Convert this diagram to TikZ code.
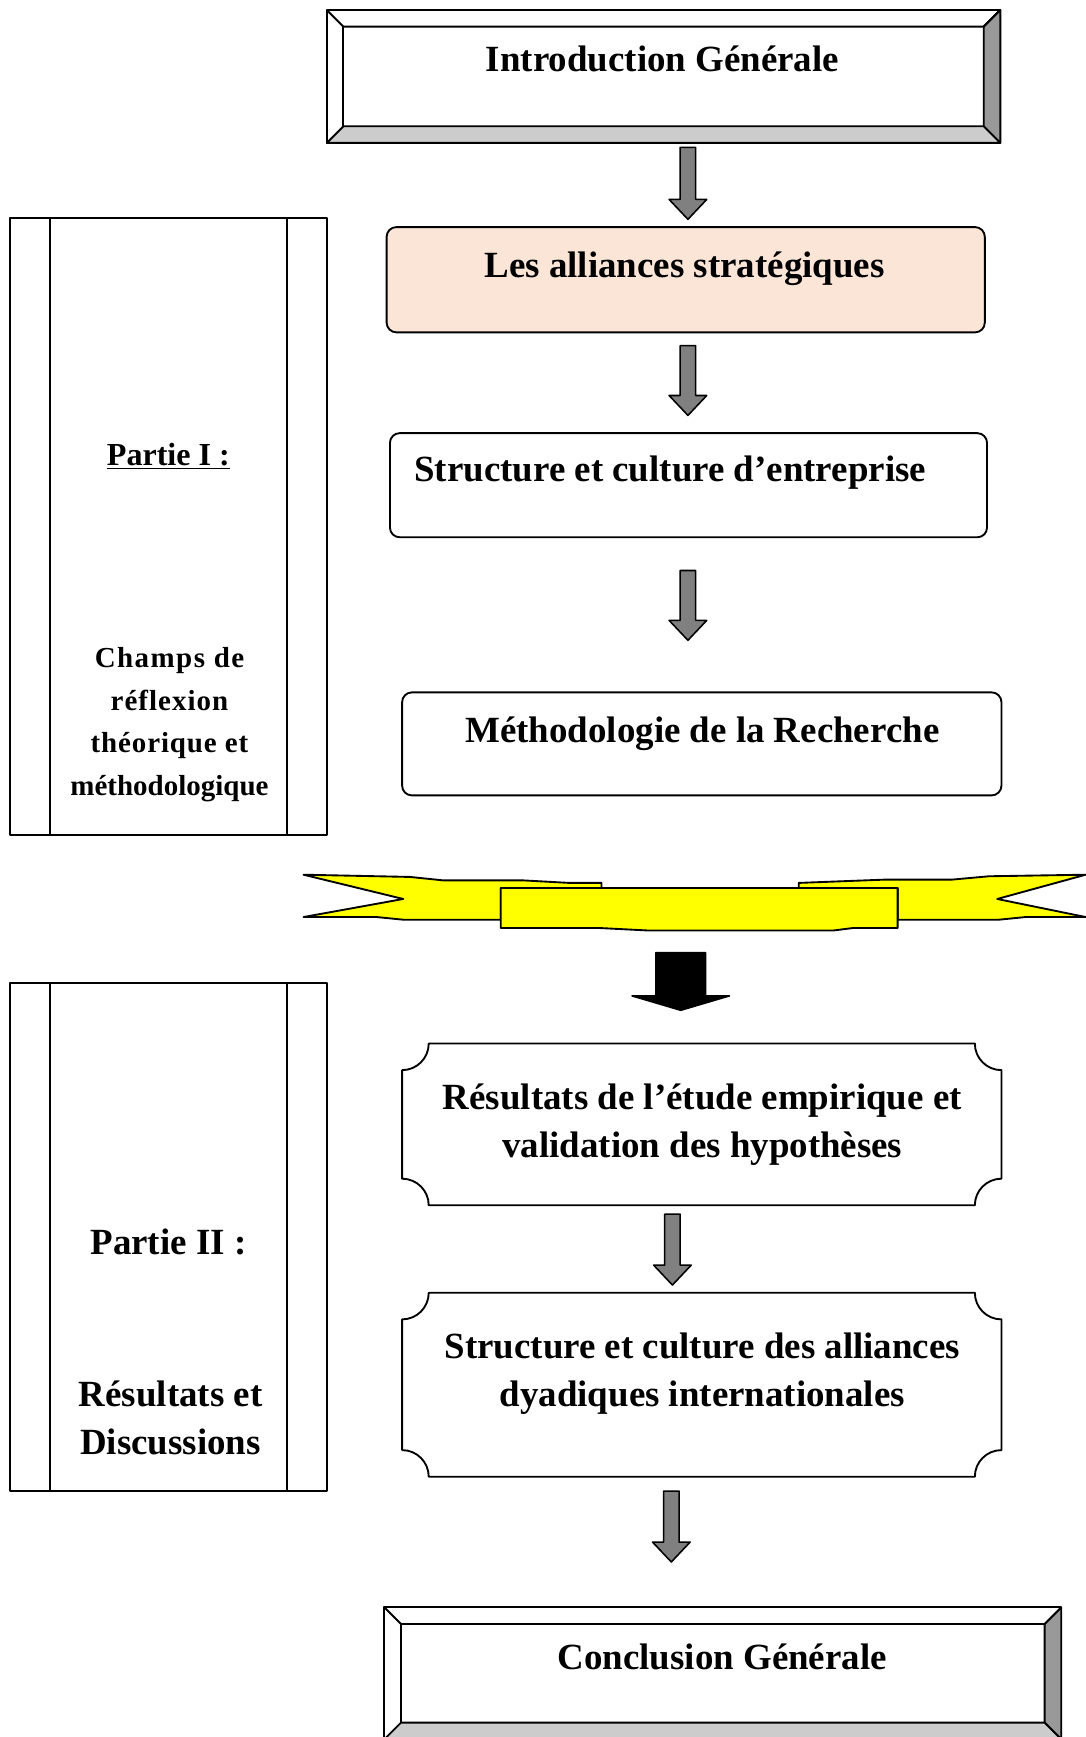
\documentclass[tikz,border=0pt]{standalone}
\usepackage{fontspec}
\setmainfont{Liberation Serif}
\usetikzlibrary{calc}
\definecolor{peche}{RGB}{251,229,214}
\definecolor{jaune}{RGB}{255,255,0}
\def\biseau(#1,#2)(#3,#4){\draw[cadre, fill=white] (#1,#2) rectangle (#3,#4);
	\draw[cadre, fill=gray!80] (#3,#2) -- (#3,#4) -- ({#3-15},{#4-15}) -- ({#3-15},{#2+15}) -- cycle;
	\draw[cadre, fill=gray!40] (#1,#4) -- (#3,#4) -- ({#3-15},{#4-15}) -- ({#1+15},{#4-15}) -- cycle;
	\draw[cadre] (#1,#2) -- ({#1+15},{#2+15}) -- ({#3-15},{#2+15}) -- (#3,#2);
	\draw[cadre] ({#1+15},{#2+15}) -- ({#1+15},{#4-15});}
\def\plaque[#1](#2,#3)(#4,#5){\draw[#1] ({#2+24},#3) -- ({#4-24},#3) arc (180:90:24) -- (#4,{#5-24}) arc (270:180:24) -- ({#2+24},#5) arc (0:-90:24) -- (#2,{#3+24}) arc (90:0:24) -- cycle;}
\def\fleche[#1](#2)(#3)(#4:#5:#6){\draw[#1] ($(#2)+(-#4,0)$) -- ($(#2)+(#4,0)$) -- ($(#3)+(#4,-#6)$) -- ($(#3)+(#5,-#6)$) -- (#3) -- ($(#3)+(-#5,-#6)$) -- ($(#3)+(-#4,-#6)$) -- cycle;}
\tikzset{
	cadre/.style={line width=1.2pt},
	titre/.style={font=\fontsize{23.7}{31}\selectfont\bfseries, align=center, inner sep=0pt},
	partie/.style={font=\fontsize{18.6}{27.4}\selectfont\bfseries, align=center, inner sep=0pt},
	grise/.style={fill=gray, draw=black, line width=1pt},
	noire/.style={fill=black, draw=black, line width=1pt}
}

\begin{document}
\begin{tikzpicture}[x=0.025cm, y=-0.025cm, line join=round]
	\useasboundingbox (0,0) rectangle (980,1568);
	
	%%%%% PARTIE I %%%%%
	\draw[cadre] (9,197) rectangle (295,754);
	\draw[cadre] (45,197) -- (45,754);
	\draw[cadre] (259,197) -- (259,754);
	\node[partie, font=\fontsize{20.6}{24}\selectfont\bfseries] (partieI) at (152,412) {\underline{Partie I :}};
	\node[partie] (champs) at (153,654) {{\addfontfeatures{LetterSpace=5}Champs de}\\{\addfontfeatures{LetterSpace=3.5}réflexion}\\{\addfontfeatures{LetterSpace=3}théorique et}\\méthodologique};
	
	%%%%% PARTIE II %%%%%
	\draw[cadre] (9,887) rectangle (295,1346);
	\draw[cadre] (45,887) -- (45,1346);
	\draw[cadre] (259,887) -- (259,1346);
	\node[titre] (partieII) at (152,1121) {Partie II :};
	\node[titre] (discussions) at (154,1280) {Résultats et\\Discussions};
	
	%%%%% CHAPITRES %%%%%
	\biseau(295,9)(903,129)
	\node[titre] (intro) at (598,53) {Introduction Générale};
	
	\draw[cadre, fill=peche, rounded corners=0.22cm] (349,205) rectangle (889,300);
	\node[titre] (alliances) at (618,243) {Les alliances stratégiques};
	
	\draw[cadre, rounded corners=0.22cm] (352,391) rectangle (891,485);
	\node[titre] (structure) at (605,427) {Structure et culture d’entreprise};
	
	\draw[cadre, rounded corners=0.22cm] (363,625) rectangle (904,718);
	\node[titre] (methodo) at (634,662) {Méthodologie de la Recherche};
	
	% bandeau jaune
	\draw[cadre, fill=jaune] (543,797) -- (514,797) -- (472,794.7) -- (400,794.7) -- (370,791.6) -- (274,789.6) -- (364,811.5) -- (274,827.8) -- (340,827.8) -- (364,830.2) -- (452,830.2) -- (452,801.6) -- (543,801.6) -- cycle;
	\draw[cadre, fill=jaune] (721,797) -- (799.5,794) -- (859.7,794) -- (892.7,791) -- (980,789.6) -- (900.2,811.5) -- (980,827.8) -- (925.8,827.8) -- (901.8,830.2) -- (810.3,830.2) -- (810.3,801.6) -- (721,801.6) -- cycle;
	\draw[cadre, fill=jaune] (452,801.6) -- (810.3,801.6) -- (810.3,837.7) -- (770,837.7) -- (752,840) -- (586,840) -- (541,837.7) -- (452,837.7) -- cycle;
	
	\plaque[cadre](363,942)(904,1088)
	\node[titre] (resultats) at (634,1015) {Résultats de l’étude empirique et\\validation des hypothèses};
	
	\plaque[cadre](363,1167)(904,1333)
	\node[titre] (dyades) at (634,1240) {Structure et culture des alliances\\dyadiques internationales};
	
	\biseau(347,1451)(958,1570)
	\node[titre] (conclusion) at (652,1496) {Conclusion Générale};
	
	%%%%% FLECHES %%%%%
	\coordinate (f1h) at (621,133);   \coordinate (f1b) at (621,198);
	\coordinate (f2h) at (621,312);   \coordinate (f2b) at (621,375);
	\coordinate (f3h) at (621,515);   \coordinate (f3b) at (621,578);
	\coordinate (f4h) at (614.5,860); \coordinate (f4b) at (614.5,912);
	\coordinate (f5h) at (607,1096);  \coordinate (f5b) at (607,1160);
	\coordinate (f6h) at (606,1346);  \coordinate (f6b) at (606,1410);
	\fleche[grise](f1h)(f1b)(7:17:18)
	\fleche[grise](f2h)(f2b)(7:17:18)
	\fleche[grise](f3h)(f3b)(7:17:18)
	\fleche[noire](f4h)(f4b)(22.5:44:13)
	\fleche[grise](f5h)(f5b)(7:17:18)
	\fleche[grise](f6h)(f6b)(7:17:18)
\end{tikzpicture}
\end{document}
